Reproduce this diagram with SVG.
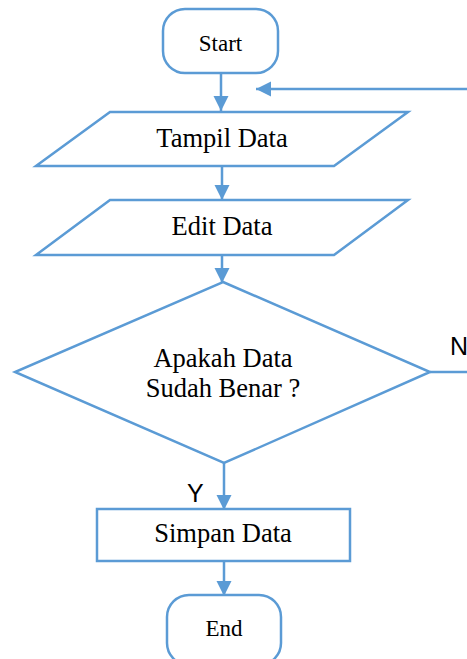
<svg xmlns="http://www.w3.org/2000/svg" width="467" height="659" viewBox="0 0 467 659">
  <defs>
    <marker id="arrow" markerUnits="userSpaceOnUse" markerWidth="16" markerHeight="16" refX="15" refY="7.5" orient="auto">
      <path d="M0,0 L15,7.5 L0,15 z" fill="#5B9BD5"/>
    </marker>
    <style>
      .shape { fill: #ffffff; stroke: #5B9BD5; stroke-width: 2.5; }
      .edge { fill: none; stroke: #5B9BD5; stroke-width: 2.5; }
      .label { font-family: "Liberation Serif", "Times New Roman", serif; font-size: 26.5px; fill: #000000; text-anchor: middle; }
      .small { font-size: 23px; }
      .branch { font-family: "Liberation Sans", Arial, sans-serif; font-size: 25px; fill: #000000; }
    </style>
  </defs>
  <rect width="467" height="659" fill="#ffffff"/>

  <g id="connectors">
    <line class="edge" x1="221" y1="73" x2="221" y2="111" marker-end="url(#arrow)"/>
    <line class="edge" x1="222" y1="166" x2="222" y2="200" marker-end="url(#arrow)"/>
    <line class="edge" x1="222" y1="255" x2="222" y2="283" marker-end="url(#arrow)"/>
    <line class="edge" x1="224" y1="463" x2="224" y2="510" marker-end="url(#arrow)"/>
    <line class="edge" x1="224" y1="561" x2="224" y2="596" marker-end="url(#arrow)"/>
    <polyline class="edge" points="430,372 467,372"/>
    <line class="edge" x1="467" y1="89" x2="256" y2="89" marker-end="url(#arrow)"/>
  </g>

  <g id="start">
    <rect class="shape" x="163" y="9" width="115" height="64" rx="22" ry="22"/>
    <text class="label small" x="220.5" y="51">Start</text>
  </g>

  <g id="tampil-data">
    <polygon class="shape" points="110,112 408,112 334,166 36,166"/>
    <text class="label" x="222" y="147">Tampil Data</text>
  </g>

  <g id="edit-data">
    <polygon class="shape" points="110,200 408,200 334,255 36,255"/>
    <text class="label" x="222" y="235">Edit Data</text>
  </g>

  <g id="decision">
    <polygon class="shape" points="223,282 430,372 224,463 15,372"/>
    <text class="label" x="223" y="367">Apakah Data</text>
    <text class="label" x="223" y="397">Sudah Benar ?</text>
    <text class="branch" x="450" y="355">N</text>
    <text class="branch" x="187" y="502">Y</text>
  </g>

  <g id="simpan-data">
    <rect class="shape" x="97" y="509" width="253" height="52"/>
    <text class="label" x="223" y="542">Simpan Data</text>
  </g>

  <g id="end">
    <rect class="shape" x="167" y="595" width="114" height="70" rx="22" ry="22"/>
    <text class="label small" x="224" y="636">End</text>
  </g>
</svg>
